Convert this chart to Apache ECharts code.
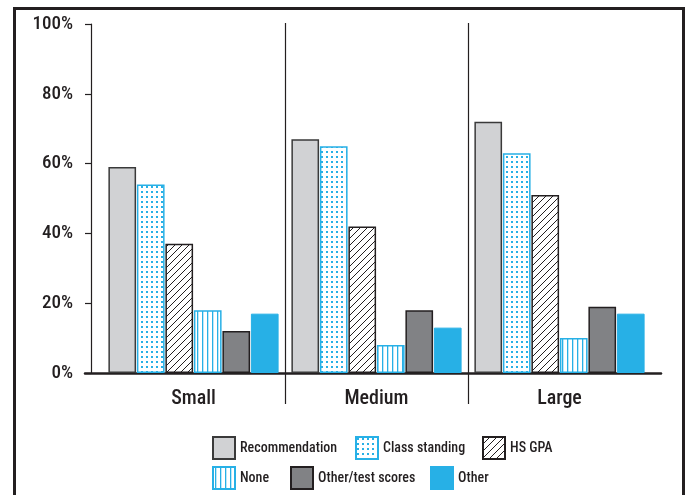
<!DOCTYPE html>
<html>
<head>
<meta charset="utf-8">
<script src="https://cdn.jsdelivr.net/npm/echarts@6/dist/echarts.min.js"></script>
<style>
html,body{margin:0;padding:0;background:#fff;}
#chart{width:689px;height:495px;}
</style>
</head>
<body>
<div id="chart"></div>
<script>
// ---- data ----
const categories = ['Small', 'Medium', 'Large'];
const seriesNames = ['Recommendation', 'Class standing', 'HS GPA', 'None', 'Other/test scores', 'Other'];
const recommendation = [59, 67, 72];
const classStanding = [54, 65, 63];
const hsGpa = [37, 42, 51];
const noneVals = [18, 8, 10];
const otherTest = [12, 18, 19];
const other = [17, 13, 17];
const yTickLabels = ['0%', '20%', '40%', '60%', '80%', '100%'];

// ---- styling helpers ----
const FONT = '"Roboto Condensed", "DejaVu Sans Condensed", sans-serif';
const WEIGHT = 500;
const DARK = '#231f20';
const BLUE = '#27b0e6';

function makeTile(w, h, draw) {
  const c = document.createElement('canvas');
  c.width = w; c.height = h;
  const ctx = c.getContext('2d');
  ctx.fillStyle = '#fff';
  ctx.fillRect(0, 0, w, h);
  draw(ctx);
  return { image: c, repeat: 'repeat' };
}
const dots = makeTile(5, 5, ctx => { ctx.fillStyle = BLUE; ctx.fillRect(1, 1, 2, 2); });
const hatch = makeTile(7, 7, ctx => {
  ctx.strokeStyle = DARK; ctx.lineWidth = 1;
  ctx.beginPath();
  ctx.moveTo(-1, 8); ctx.lineTo(8, -1);
  ctx.moveTo(-1, 1); ctx.lineTo(1, -1);
  ctx.moveTo(6, 8); ctx.lineTo(8, 6);
  ctx.stroke();
});
const stripes = makeTile(5, 5, ctx => { ctx.fillStyle = BLUE; ctx.fillRect(2, 0, 1.3, 5); });

const styles = [
  { color: '#d1d2d4', borderColor: '#3a3a3a', borderWidth: 1.5 },
  { color: dots, borderColor: BLUE, borderWidth: 1.5 },
  { color: hatch, borderColor: DARK, borderWidth: 1.5 },
  { color: stripes, borderColor: BLUE, borderWidth: 1.5 },
  { color: '#818285', borderColor: DARK, borderWidth: 1.5 },
  { color: BLUE, borderColor: BLUE, borderWidth: 1 }
];
const values = [recommendation, classStanding, hsGpa, noneVals, otherTest, other];

const series = seriesNames.map((n, i) => ({
  name: n,
  type: 'bar',
  xAxisIndex: 0,
  yAxisIndex: 0,
  data: values[i],
  barCategoryGap: '7%',
  barGap: '3%',
  itemStyle: styles[i],
  emphasis: { disabled: true }
}));

const legendPos = [
  { left: 212, top: 436 }, { left: 355, top: 436 }, { left: 482, top: 436 },
  { left: 212, top: 466 }, { left: 290, top: 466 }, { left: 430, top: 466 }
];
const legends = seriesNames.map((n, i) => ({
  data: [n],
  left: legendPos[i].left,
  top: legendPos[i].top,
  padding: 0,
  itemWidth: 22,
  itemHeight: 22,
  icon: 'rect',
  selectedMode: false,
  textStyle: { fontFamily: FONT, fontWeight: WEIGHT, fontSize: 14, color: DARK, padding: [0, 0, 0, 0] }
}));

const chart = echarts.init(document.getElementById('chart'), null, { renderer: 'canvas' });
chart.setOption({
  animation: false,
  backgroundColor: '#fff',
  legend: legends,
  graphic: [{
    type: 'rect',
    shape: { x: 14.5, y: 8.5, width: 669, height: 500 },
    style: { fill: 'none', stroke: DARK, lineWidth: 3 },
    silent: true
  }],
  grid: [
    { left: 102, right: 38, top: 24, bottom: 122 },
    { left: 102, right: 38, top: 23, bottom: 91 },
    { left: 85, right: 28, top: 24, bottom: 122 }
  ],
  xAxis: [
    {
      type: 'category', gridIndex: 0, data: categories,
      axisLine: { show: false }, axisTick: { show: false },
      axisLabel: { fontFamily: FONT, fontWeight: WEIGHT, fontSize: 20, color: DARK, margin: 16 },
      splitLine: { show: false }
    },
    {
      type: 'category', gridIndex: 1, data: categories,
      axisLine: { show: false }, axisTick: { show: false }, axisLabel: { show: false },
      splitLine: { show: true, lineStyle: { width: 1.2, color: ['rgba(0,0,0,0)', DARK, DARK, 'rgba(0,0,0,0)'] } }
    },
    {
      type: 'value', gridIndex: 2, min: 0, max: 1,
      axisLine: { show: true, onZero: false, lineStyle: { color: DARK, width: 2.5 } },
      axisTick: { show: false }, axisLabel: { show: false }, splitLine: { show: false }
    }
  ],
  yAxis: [
    {
      type: 'value', gridIndex: 0, min: 0, max: 100, interval: 20, offset: 11,
      axisLine: { show: true, lineStyle: { color: DARK, width: 1.2 } },
      axisTick: { show: true, inside: false, length: 6, lineStyle: { color: DARK, width: 1.2 } },
      axisLabel: {
        fontFamily: FONT, fontWeight: WEIGHT, fontSize: 19, color: DARK, margin: 18,
        formatter: v => yTickLabels[Math.round(v / 20)]
      },
      splitLine: { show: false }
    },
    { type: 'value', gridIndex: 1, show: false },
    { type: 'value', gridIndex: 2, show: false }
  ],
  series: series
});
</script>
</body>
</html>
